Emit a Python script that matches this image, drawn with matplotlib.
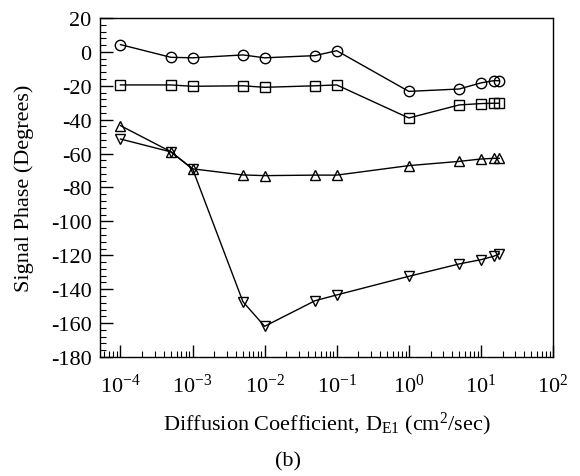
import matplotlib
matplotlib.use("Agg")
import matplotlib.pyplot as plt
from matplotlib.ticker import MultipleLocator, LogLocator, NullFormatter

plt.rcParams['font.family'] = 'Liberation Serif'
plt.rcParams['mathtext.fontset'] = 'custom'
plt.rcParams['mathtext.rm'] = 'Liberation Serif'
plt.rcParams['mathtext.it'] = 'Liberation Serif:italic'
plt.rcParams['axes.unicode_minus'] = False

# diffusion coefficient values (cm^2/sec)
d_e1 = [1e-4, 5e-4, 1e-3, 5e-3, 1e-2, 5e-2, 1e-1, 1, 5, 10, 15, 18]

# signal phase (degrees), one series per marker
phase_circle = [4.3, -3.2, -3.5, -1.8, -3.5, -2.2, 0.7, -23.3, -21.9, -18.3, -17.0, -17.0]
phase_square = [-19.5, -19.5, -20.3, -20.0, -20.9, -20.0, -19.5, -39.0, -31.3, -30.5, -30.3, -30.3]
phase_up = [-43.5, -58.9, -69.0, -72.6, -73.0, -72.7, -72.7, -67.1, -64.6, -63.2, -62.8, -62.8]
phase_down = [-51.4, -59.0, -69.0, -147.4, -161.9, -146.8, -143.4, -132.4, -125.1, -122.6, -120.6, -119.2]

# decade ticks on the x axis
x_ticks = [1e-4, 1e-3, 1e-2, 1e-1, 1, 10, 100]
x_ticklabels = [r'$10^{-4}$', r'$10^{-3}$', r'$10^{-2}$', r'$10^{-1}$',
                r'$10^{0}$', r'$10^{1}$', r'$10^{2}$']

fig = plt.figure(figsize=(5.8, 4.77), dpi=100)
ax = fig.add_axes([0.1724, 0.2495, 0.781, 0.7107])

style = dict(color='black', linewidth=1.0, markerfacecolor='none',
             markeredgecolor='black', markeredgewidth=1.0)
ax.plot(d_e1, phase_circle, marker='o', markersize=7.5, **style)
ax.plot(d_e1, phase_square, marker='s', markersize=6.5, **style)
ax.plot(d_e1, phase_up, marker='^', markersize=7.5, **style)
ax.plot(d_e1, phase_down, marker='v', markersize=7.5, **style)

ax.set_xscale('log')
ax.set_xlim(5.2e-5, 100)
ax.set_ylim(-180, 20)

ax.yaxis.set_major_locator(MultipleLocator(20))
ax.yaxis.set_minor_locator(MultipleLocator(4))
ax.set_xticks(x_ticks)
ax.set_xticklabels(x_ticklabels)
ax.xaxis.set_minor_locator(LogLocator(base=10, subs=range(2, 10), numticks=20))
ax.xaxis.set_minor_formatter(NullFormatter())

ax.tick_params(which='both', direction='in', top=False, right=False, labelsize=16)
ax.tick_params(which='major', length=9, width=1)
ax.tick_params(which='minor', length=4, width=0.8)
ax.tick_params(axis='x', which='major', pad=12)
ax.tick_params(axis='y', which='major', pad=6)

for s in ax.spines.values():
    s.set_linewidth(1.0)

ax.set_ylabel('Signal Phase (Degrees)', fontsize=16, labelpad=12)
ax.set_xlabel(r'Diffusion Coefficient, D$_{\mathrm{E1}}$ (cm$^{2}$/sec)', fontsize=16, labelpad=9)
fig.text(0.497, 0.031, '(b)', fontsize=16, ha='center', va='center')

fig.savefig('out.png', dpi=100)
